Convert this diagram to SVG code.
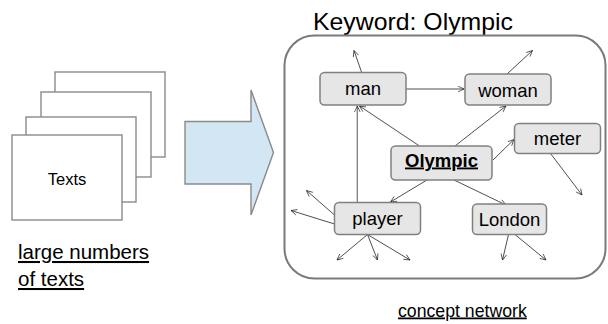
<svg xmlns="http://www.w3.org/2000/svg" width="608" height="324" viewBox="0 0 608 324">
  <style>
    text { font-family: "Liberation Sans", Arial, sans-serif; fill: #000; }
    .page { fill: #fff; stroke: #8a8a8a; stroke-width: 1.4; }
    .node rect { fill: #e6e6e6; stroke: #808080; stroke-width: 1.5; }
    .node text { font-size: 18.5px; text-anchor: middle; }
    .edge { stroke: #222; stroke-width: 0.8; fill: none; marker-end: url(#arrow); }
    .edge.gray { stroke: #808080; stroke-width: 1.3; }
    .cap { text-decoration: underline; }
  </style>
  <defs>
    <marker id="arrow" viewBox="0 0 10 10" refX="9.5" refY="5" markerWidth="7" markerHeight="7" markerUnits="userSpaceOnUse" orient="auto">
      <path d="M1,1 L9.5,5 L1,9" fill="none" stroke="#222" stroke-width="1"/>
    </marker>
  </defs>

  <!-- stack of text documents -->
  <g id="texts">
    <rect class="page" x="55" y="72" width="110" height="85"/>
    <rect class="page" x="41" y="92" width="110" height="85"/>
    <rect class="page" x="26" y="117" width="110" height="85"/>
    <rect class="page" x="12" y="135" width="110" height="85"/>
    <text x="67" y="185" font-size="16.5" text-anchor="middle">Texts</text>
  </g>
  <text class="cap" x="18" y="259" font-size="20.5">large numbers</text>
  <text class="cap" x="18" y="286" font-size="20.5">of texts</text>

  <!-- block arrow -->
  <g id="big-arrow">
    <path d="M185,121.5 H251 V90 L273.5,152.5 L251,215 V184 H185 Z" fill="#d2e6f3" stroke="#8a8a8a" stroke-width="1.4"/>
  </g>

  <!-- concept network frame -->
  <text x="313" y="30" font-size="24" textLength="200" lengthAdjust="spacingAndGlyphs">Keyword: Olympic</text>
  <rect id="frame" x="284.5" y="35.5" width="321" height="243" rx="30" ry="30" fill="#fff" stroke="#7a7a7a" stroke-width="2"/>
  <text class="cap" x="398" y="316.5" font-size="17.7">concept network</text>

  <g id="connectors">
    <line class="edge" x1="361.5" y1="72" x2="354" y2="50.5"/>
    <line class="edge" x1="507" y1="74" x2="532.5" y2="50.5"/>
    <line class="edge" x1="406" y1="89" x2="464" y2="89"/>
    <line class="edge" x1="419.5" y1="146" x2="359.5" y2="106"/>
    <line class="edge gray" x1="357.3" y1="202" x2="357.3" y2="106"/>
    <line class="edge" x1="455" y1="146" x2="506" y2="106"/>
    <line class="edge" x1="493" y1="160" x2="514" y2="139.5"/>
    <line class="edge" x1="550.5" y1="153.5" x2="582" y2="195"/>
    <line class="edge" x1="431" y1="177.5" x2="390.5" y2="202"/>
    <line class="edge" x1="454" y1="180" x2="506" y2="205"/>
    <line class="edge" x1="334.5" y1="215" x2="306.5" y2="190.5"/>
    <line class="edge" x1="334.5" y1="224" x2="291" y2="210.5"/>
    <line class="edge" x1="367.5" y1="234.5" x2="337" y2="260"/>
    <line class="edge" x1="367.5" y1="234.5" x2="377.5" y2="260"/>
    <line class="edge" x1="367.5" y1="234.5" x2="410" y2="260"/>
    <line class="edge" x1="508.5" y1="234.5" x2="502.5" y2="260"/>
    <line class="edge" x1="515" y1="234.5" x2="546" y2="260"/>
  </g>

  <g id="node-man" class="node">
    <rect x="320" y="72.5" width="86" height="32.5" rx="4.5"/>
    <text x="363" y="95">man</text>
  </g>
  <g id="node-woman" class="node">
    <rect x="465" y="74" width="86" height="31" rx="4.5"/>
    <text x="508" y="96.5">woman</text>
  </g>
  <g id="node-meter" class="node">
    <rect x="514.5" y="123.5" width="86" height="30" rx="4.5"/>
    <text x="557.5" y="144.5">meter</text>
  </g>
  <g id="node-olympic" class="node">
    <rect x="391" y="146" width="101" height="34" rx="4.5"/>
    <text x="441.5" y="166.5" font-size="17.5" font-weight="bold" class="cap">Olympic</text>
  </g>
  <g id="node-player" class="node">
    <rect x="334.5" y="202.5" width="86" height="32" rx="4.5"/>
    <text x="377.5" y="225">player</text>
  </g>
  <g id="node-london" class="node">
    <rect x="472.5" y="204" width="74" height="30.5" rx="4.5"/>
    <text x="509.5" y="225.5">London</text>
  </g>
</svg>
